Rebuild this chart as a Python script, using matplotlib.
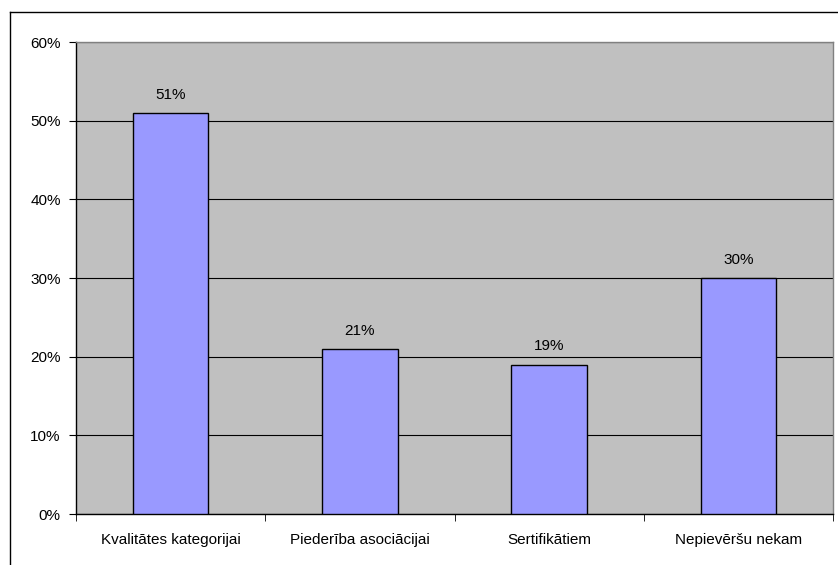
import matplotlib
matplotlib.use("Agg")
import matplotlib.pyplot as plt
from matplotlib.lines import Line2D
from matplotlib.ticker import FixedLocator

categories = ["Kvalitātes kategorijai", "Piederība asociācijai", "Sertifikātiem", "Nepievēršu nekam"]
values = [51, 21, 19, 30]
yticks = [0, 10, 20, 30, 40, 50, 60]

plt.rcParams['font.family'] = ['Liberation Sans', 'DejaVu Sans']

W, H = 838, 565
fig = plt.figure(figsize=(W/100, H/100), dpi=100)
fig.patch.set_facecolor('white')

left, right, top, bottom = 76, 833, 42, 514
ax = fig.add_axes([left/W, 1 - bottom/H, (right-left)/W, (bottom-top)/H])
ax.set_facecolor('#c0c0c0')

FS = 11
x = list(range(len(categories)))
ax.bar(x, values, width=0.4, color='#9999ff', edgecolor='black', linewidth=1, zorder=3)
for xi, v in zip(x, values):
    ax.annotate(f"{v}%", (xi, v), xytext=(0, 8), textcoords='offset points',
                ha='center', va='bottom', fontsize=FS, zorder=4)

ax.set_xlim(-0.5, len(categories) - 0.5)
ax.set_ylim(0, 60)
ax.set_yticks(yticks)
ax.set_yticklabels([f"{t}%" for t in yticks], fontsize=FS)
ax.yaxis.grid(True, color='black', linewidth=0.8, zorder=1)
ax.set_axisbelow(True)

ax.set_xticks(x)
ax.set_xticklabels(categories, fontsize=FS)
ax.tick_params(axis='x', which='major', length=0, pad=14)
ax.xaxis.set_minor_locator(FixedLocator([i + 0.5 for i in range(-1, len(categories))]))
ax.tick_params(axis='x', which='minor', length=5, direction='out', color='black')
ax.tick_params(axis='y', length=5, direction='out', color='black', pad=6)

for s in ['top', 'right']:
    ax.spines[s].set_color('#808080')
    ax.spines[s].set_linewidth(1)
for s in ['left', 'bottom']:
    ax.spines[s].set_color('black')
    ax.spines[s].set_linewidth(1)

# outer chart border (left and top visible)
fig.add_artist(Line2D([10/W, 10/W], [0, 1 - 12/H], transform=fig.transFigure, color='black', linewidth=1))
fig.add_artist(Line2D([10/W, 1], [1 - 12/H, 1 - 12/H], transform=fig.transFigure, color='black', linewidth=1))

fig.savefig("out.png", dpi=100)
